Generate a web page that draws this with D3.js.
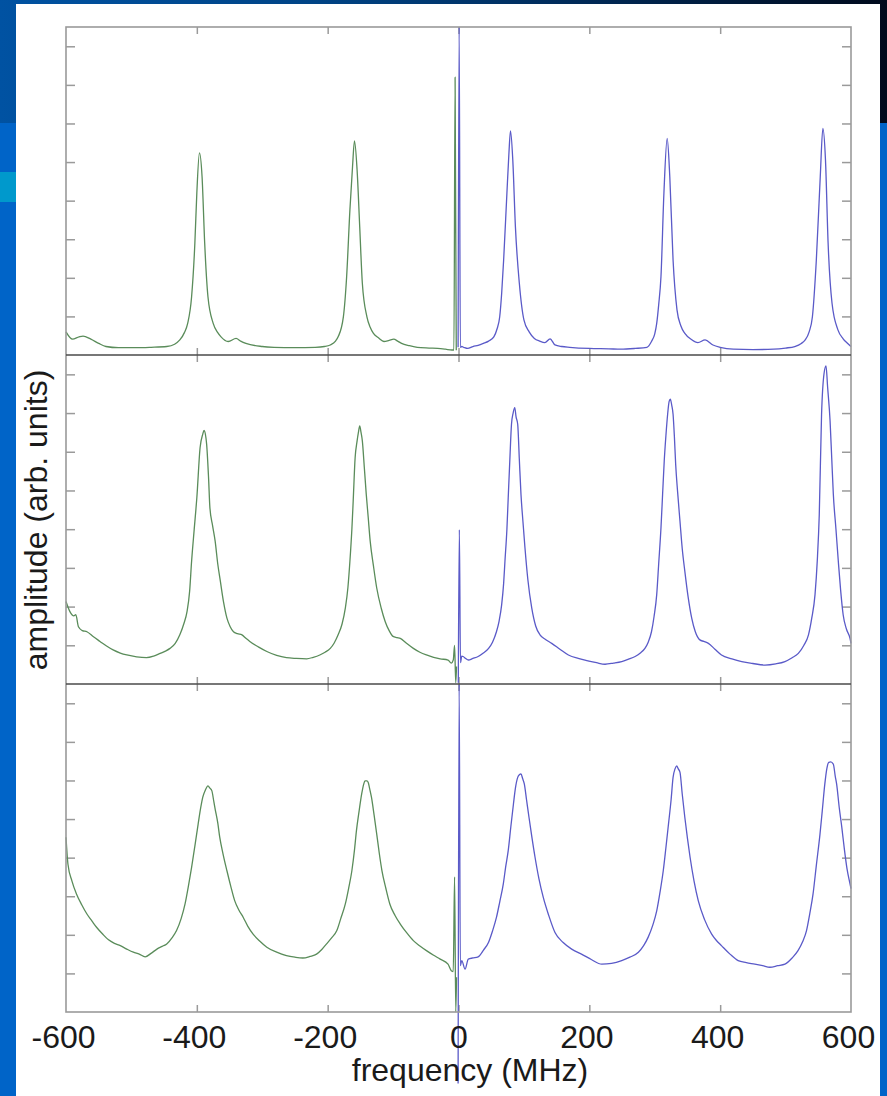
<!DOCTYPE html>
<html>
<head>
<meta charset="utf-8">
<script src="https://cdn.jsdelivr.net/npm/d3@7"></script>
<style>
  html, body { margin: 0; padding: 0; background: #0064c8; }
  svg { display: block; }
</style>
</head>
<body>
<svg id="chart" width="887" height="1096"></svg>
<script>
// Frequency axis ticks (MHz) and amplitude tick positions (arb. units)
const freqTicks = [-600, -400, -200, 0, 200, 400, 600];
const ampTicks = [1, 2, 3, 4, 5, 6, 7, 8];

// Top panel: narrow resonances
const panel1Green = [[-600,0.60],[-590,0.41],[-580,0.47],[-574,0.49],[-562,0.41],[-550,0.30],[-539,0.22],[-520,0.19],[-492,0.19],[-470,0.20],[-446,0.22],[-434,0.28],[-426,0.39],[-419,0.58],[-414,0.82],[-408,1.51],[-403,2.9],[-400,4.2],[-396,5.24],[-392,4.62],[-388,2.9],[-383,1.51],[-375,0.82],[-368,0.58],[-363,0.47],[-352,0.35],[-340,0.43],[-333,0.36],[-325,0.30],[-300,0.22],[-282,0.20],[-250,0.19],[-219,0.20],[-205,0.22],[-196,0.26],[-188,0.36],[-184,0.47],[-176,0.99],[-171,2.03],[-166,3.76],[-162,4.88],[-159,5.55],[-155,4.79],[-151,3.32],[-147,1.86],[-140,0.99],[-135,0.72],[-130,0.56],[-122,0.44],[-114,0.35],[-106,0.38],[-99,0.41],[-93,0.36],[-87,0.30],[-75,0.24],[-63,0.20],[-45,0.18],[-32,0.17],[-20,0.15],[-10,0.13],[-7,0.13],[-5.2,7.2],[-3.4,0.12]];
const panel1Blue = [[-0.6,0.2],[1,8.5],[2.8,0.2],[5,0.22],[8,0.2],[14,0.17],[22,0.22],[30,0.25],[38,0.30],[46,0.36],[54,0.47],[59,0.68],[63,0.99],[66,1.6],[69,2.46],[74,4.19],[77,5.2],[79.5,5.81],[83,5.05],[87,3.32],[93,1.86],[100,0.91],[108,0.6],[116,0.43],[124,0.36],[132,0.32],[140,0.42],[147.5,0.26],[158,0.22],[170,0.2],[200,0.17],[230,0.16],[248,0.15],[270,0.17],[288,0.2],[295,0.35],[300,0.55],[303,0.82],[306,1.3],[309.5,2.03],[314,4.19],[319,5.61],[323,4.62],[328,2.46],[334,1.17],[340,0.75],[346,0.56],[356,0.40],[366,0.32],[377,0.39],[389,0.26],[400,0.2],[420,0.15],[450,0.14],[482,0.15],[500,0.18],[514,0.22],[524,0.30],[530,0.39],[536,0.6],[541,0.99],[547,2.46],[553,4.62],[557,5.87],[561,5.05],[565,2.9],[571,1.34],[580,0.65],[588,0.42],[595,0.30],[600,0.22]];

// Middle panel: broadened resonances
const panel2Green = [[-600,2.13],[-594,1.87],[-588,1.76],[-585,1.79],[-581,1.48],[-575,1.38],[-568,1.35],[-558,1.22],[-548,1.10],[-538,0.98],[-528,0.88],[-517,0.80],[-507,0.75],[-492,0.70],[-477,0.68],[-466,0.72],[-456,0.79],[-448,0.85],[-441,0.92],[-433,1.05],[-426,1.27],[-420,1.55],[-415,1.87],[-411,2.4],[-408,3.17],[-404,4.0],[-400,4.81],[-395,6.11],[-391,6.45],[-389,6.55],[-386,6.35],[-385,6.19],[-382,5.3],[-380,4.55],[-376,4.1],[-372,3.69],[-368,3.1],[-364,2.65],[-359,2.1],[-354,1.70],[-349,1.48],[-344,1.35],[-338,1.30],[-331,1.27],[-325,1.18],[-319,1.10],[-306,0.96],[-293,0.84],[-278,0.74],[-263,0.68],[-248,0.66],[-232,0.65],[-222,0.69],[-212,0.75],[-204,0.82],[-196,0.92],[-190,1.06],[-184,1.27],[-178,1.55],[-173,1.96],[-169,2.5],[-166,3.17],[-163,4.0],[-161,4.72],[-158,5.85],[-155,6.28],[-153,6.5],[-151,6.67],[-149,6.5],[-147,6.28],[-144,5.6],[-141,4.90],[-138,4.3],[-135,3.69],[-130,3.05],[-125,2.48],[-118,1.95],[-112,1.61],[-106,1.38],[-100,1.23],[-94,1.20],[-89,1.18],[-80,1.06],[-69,0.92],[-59,0.82],[-49,0.75],[-38,0.69],[-28,0.65],[-16,0.62],[-11,0.54],[-8,0.62],[-6,1.0],[-4.2,0.03],[-3,0.45]];
const panel2Blue = [[-0.3,0.03],[1.3,3.99],[3,0.55],[5,0.72],[7,0.71],[11,0.66],[15,0.62],[22,0.66],[30,0.71],[38,0.80],[46,0.92],[52,1.08],[58,1.35],[62,1.62],[66,2.05],[69,2.6],[71,3.17],[74,4.0],[76,4.81],[78.5,5.8],[81,6.71],[83.5,7.0],[86,7.14],[88,6.9],[90.5,6.71],[93,5.8],[95.5,4.90],[98.5,4.2],[101.6,3.52],[106,2.7],[112,1.96],[118,1.5],[124.6,1.27],[133,1.15],[142.5,1.05],[155,0.9],[168,0.75],[183,0.66],[198,0.60],[211,0.55],[224,0.51],[237,0.54],[249.5,0.58],[260,0.64],[270,0.71],[278,0.80],[285,0.92],[290,1.08],[295,1.35],[299,1.75],[303,2.31],[306,3.1],[309.5,4.03],[312,4.9],[314.5,5.76],[317,6.4],[319.7,6.97],[322,7.3],[323.8,7.36],[326,7.2],[328,6.97],[330,6.4],[332,5.67],[335,4.95],[338.6,4.20],[342,3.5],[346,2.91],[351,2.25],[356.5,1.70],[362,1.35],[369,1.14],[375,1.10],[382,1.05],[392,0.9],[402,0.75],[418,0.65],[433,0.58],[450,0.53],[468.5,0.49],[485,0.52],[499,0.58],[510,0.68],[519.5,0.79],[528,1.0],[535,1.27],[540,1.7],[545,2.31],[548.5,3.2],[551.5,4.38],[555,6.97],[558.7,8.01],[561.8,8.22],[564.3,7.66],[568,6.80],[570.5,5.85],[573,4.90],[577,4.0],[580.6,3.17],[584,2.45],[588,1.79],[593,1.42],[598.5,1.18],[600,1.05]];

// Bottom panel: strongly broadened resonances
const panel3Green = [[-600,4.53],[-597,3.83],[-591,3.4],[-584,3.06],[-576,2.78],[-568,2.54],[-560,2.35],[-553,2.19],[-544,2.02],[-535,1.87],[-526,1.78],[-517,1.72],[-507,1.63],[-497,1.55],[-488,1.50],[-479,1.43],[-470,1.52],[-461,1.63],[-453,1.70],[-446,1.76],[-438,1.92],[-431,2.11],[-424,2.42],[-418,2.80],[-413,3.25],[-408,3.75],[-403,4.3],[-398,4.87],[-394,5.3],[-391,5.56],[-387,5.75],[-383,5.86],[-380,5.80],[-377,5.73],[-374,5.45],[-372,5.26],[-368,4.9],[-365,4.53],[-360,4.1],[-354,3.66],[-348,3.25],[-342,2.88],[-336,2.65],[-329,2.45],[-322,2.22],[-314,2.02],[-304,1.84],[-293,1.68],[-278,1.55],[-263,1.46],[-250,1.42],[-238,1.40],[-227,1.44],[-217,1.50],[-209,1.62],[-202,1.76],[-194,1.92],[-186,2.11],[-180,2.42],[-173,2.80],[-168,3.2],[-163,3.66],[-159,4.2],[-156,4.70],[-152,5.2],[-148,5.65],[-145,5.9],[-143,5.99],[-140,5.99],[-138,5.95],[-136,5.8],[-133,5.56],[-129,5.1],[-125,4.61],[-121,4.1],[-117,3.66],[-111,3.2],[-105,2.80],[-97,2.5],[-89,2.28],[-79,2.05],[-69,1.85],[-59,1.71],[-49,1.59],[-38,1.47],[-28,1.37],[-16,1.24],[-11,1.07],[-8,1.05],[-6,3.5],[-4.2,0.0],[-3,0.9]];
const panel3Blue = [[-0.6,-1.85],[1,8.5],[2.8,1.2],[5,1.33],[10,1.11],[15,1.37],[22,1.40],[30,1.43],[38,1.6],[46,1.81],[52,2.1],[58,2.45],[63,2.85],[68.5,3.32],[72,3.75],[76,4.18],[80,4.8],[84,5.39],[87,5.8],[90.5,6.08],[93,6.15],[95.5,6.17],[98,6.05],[100.6,5.91],[104,5.5],[107.8,5.04],[112,4.55],[117,4.01],[123,3.45],[129.6,2.97],[138,2.5],[147.5,2.06],[160,1.8],[173,1.63],[188,1.50],[203,1.36],[219,1.24],[234,1.26],[249.5,1.33],[262,1.42],[275,1.55],[283,1.72],[290,1.94],[297,2.25],[303,2.62],[308,3.1],[313,3.66],[317,4.25],[321,4.87],[325,5.5],[328,6.08],[331,6.3],[333.5,6.38],[336,6.3],[338.6,6.21],[342,5.65],[346,5.04],[350,4.5],[354,4.01],[360,3.4],[366.6,2.88],[376,2.4],[387,2.02],[394,1.86],[402,1.72],[415,1.5],[427.5,1.33],[440,1.28],[453,1.24],[465,1.2],[476,1.16],[488,1.2],[499,1.24],[510,1.4],[519,1.59],[526,1.82],[532,2.11],[537,2.55],[542,3.06],[547,3.8],[552.6,4.61],[556,5.2],[560,5.91],[563,6.3],[566,6.47],[569,6.48],[573,6.42],[576,6.1],[578,5.91],[582,5.3],[586,4.78],[590,4.2],[594,3.7],[598.5,3.32],[600,3.2]];

const panelGreen = [panel1Green, panel2Green, panel3Green];
const panelBlue = [panel1Blue, panel2Blue, panel3Blue];

const W = 887, H = 1096;
const FONT = "'Liberation Sans', Arial, Helvetica, sans-serif";
const svg = d3.select("#chart");

// ---- slide backdrop ----
const defs = svg.append("defs");
const grad = defs.append("linearGradient").attr("id", "band").attr("x1", 0).attr("x2", 1).attr("y1", 0).attr("y2", 0);
[[0, "#0052a2"], [0.35, "#004486"], [0.65, "#002a58"], [1, "#000a1c"]].forEach(([o, c]) =>
  grad.append("stop").attr("offset", o).attr("stop-color", c));

svg.append("rect").attr("width", W).attr("height", H).attr("fill", "#0064c8");
svg.append("rect").attr("width", W).attr("height", 123).attr("fill", "url(#band)");
svg.append("rect").attr("x", 0).attr("y", 172).attr("width", 16).attr("height", 30).attr("fill", "#0099cc");
svg.append("rect").attr("x", 16).attr("y", 4).attr("width", 864).attr("height", H - 4).attr("fill", "#ffffff");

// ---- scales ----
const x = d3.scaleLinear().domain([-600, 600]).range([66, 851]);
const panels = [[27, 355], [355, 684], [684, 1012]];
const yScales = panels.map(([top, bottom]) => d3.scaleLinear().domain([0, 8.5]).range([bottom, top]));

const tickColor = "#9a9a9a";

panels.forEach(([top, bottom], i) => {
  const y = yScales[i];
  const g = svg.append("g");

  // inward ticks on all four sides
  const left = g.append("g").attr("transform", `translate(${x.range()[0]},0)`)
    .call(d3.axisLeft(y).tickValues(ampTicks).tickSize(-9).tickFormat(""));
  const right = g.append("g").attr("transform", `translate(${x.range()[1]},0)`)
    .call(d3.axisRight(y).tickValues(ampTicks).tickSize(-9).tickFormat(""));
  const topAx = g.append("g").attr("transform", `translate(0,${top})`)
    .call(d3.axisTop(x).tickValues(freqTicks.slice(1, -1)).tickSize(-7).tickFormat(""));
  const botAx = g.append("g").attr("transform", `translate(0,${bottom})`)
    .call(d3.axisBottom(x).tickValues(freqTicks.slice(1, -1)).tickSize(-7).tickFormat(""));
  [left, right, topAx, botAx].forEach(a => {
    a.select(".domain").remove();
    a.selectAll(".tick line").attr("stroke", tickColor).attr("stroke-width", 1.5);
  });

  // spectra: green for negative detuning, blue for positive
  const line = d3.line().x(d => x(d[0])).y(d => y(d[1])).curve(d3.curveMonotoneX);
  g.append("path").datum(panelGreen[i]).attr("d", line)
    .attr("fill", "none").attr("stroke", "#5a8c5a").attr("stroke-width", 1.3).attr("stroke-linejoin", "round");
  g.append("path").datum(panelBlue[i]).attr("d", line)
    .attr("fill", "none").attr("stroke", "#5a5ac8").attr("stroke-width", 1.3).attr("stroke-linejoin", "round");
});

// frame and panel dividers
svg.append("rect").attr("x", 66).attr("y", 27).attr("width", 785).attr("height", 985)
  .attr("fill", "none").attr("stroke", "#9a9a9a").attr("stroke-width", 1.6);
[355, 684].forEach(yy => svg.append("line").attr("x1", 66).attr("x2", 851).attr("y1", yy).attr("y2", yy)
  .attr("stroke", "#4a4a4a").attr("stroke-width", 1.6));

// frequency tick labels
const labelAxis = svg.append("g").attr("transform", "translate(0,1012)")
  .call(d3.axisBottom(x).tickValues(freqTicks).tickSize(0).tickFormat(d => String(d)));
labelAxis.select(".domain").remove();
labelAxis.selectAll("text")
  .attr("y", 36).attr("dy", 0).attr("dx", d => d === 0 ? 0 : -3)
  .attr("fill", "#1a1a1a").style("font-family", FONT).style("font-size", "32px");

// axis titles
svg.append("text").attr("x", 470).attr("y", 1081).attr("text-anchor", "middle")
  .attr("fill", "#1a1a1a").style("font-family", FONT).style("font-size", "32px")
  .text("frequency (MHz)");
svg.append("text").attr("transform", "translate(47,520) rotate(-90)").attr("text-anchor", "middle")
  .attr("fill", "#1a1a1a").style("font-family", FONT).style("font-size", "32px")
  .text("amplitude (arb. units)");
</script>
</body>
</html>
